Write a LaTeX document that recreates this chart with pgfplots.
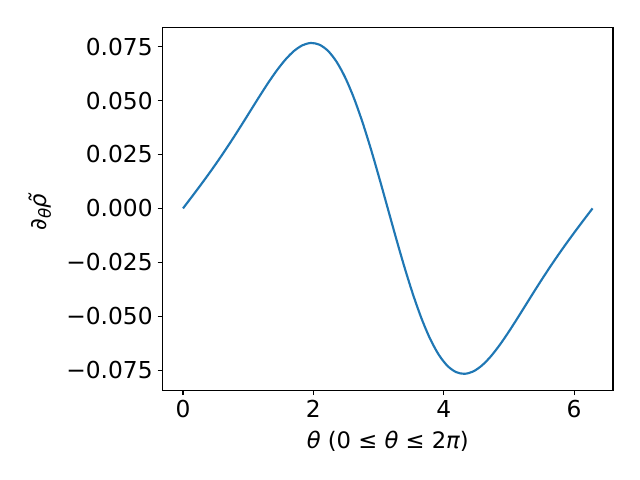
\documentclass[border=0pt]{standalone}
\usepackage{fontspec}
\setmainfont{DejaVu Sans}
\usepackage{pgfplots}
\pgfplotsset{compat=1.18}
\definecolor{mplblue}{RGB}{31,119,180}
\begin{document}
\begin{tikzpicture}
\begin{axis}[
  scale only axis, width=337.9pt, height=272.25pt,
  xmin=-0.31416, xmax=6.59734, ymin=-0.0844, ymax=0.0839,
  scaled y ticks=false, scaled x ticks=false,
  axis line style={line width=0.83pt},
  tick style={line width=0.83pt, black},
  major tick length=3.6pt, tick align=outside, tick pos=left,
  xtick={0,2,4,6}, xticklabels={0,2,4,6},
  ytick={-0.075,-0.05,-0.025,0,0.025,0.05,0.075},
  yticklabels={−0.075,−0.050,−0.025,0.000,0.025,0.050,0.075},
  ticklabel style={font=\fontsize{17.5}{21}\selectfont, inner sep=0pt},
  xticklabel style={yshift=-3.6pt},
  yticklabel style={xshift=-3.6pt},
  xlabel={{\itshape θ} (0 ≤ {\itshape θ} ≤ 2{\itshape π})},
  ylabel={∂\raisebox{-0.35ex}{\fontsize{12.5}{14}\selectfont\itshape θ}{\itshape ρ̃}},
  xlabel style={font=\fontsize{17}{20}\selectfont, at={(axis description cs:0.5,-0.1405)}, anchor=center},
  ylabel style={font=\fontsize{17}{20}\selectfont, at={(axis description cs:-0.272,0.49)}, anchor=center, rotate=0},
  clip=false,
]
\coordinate (bl) at (rel axis cs:0,0);
\coordinate (tr) at (rel axis cs:1,1);
\addplot[mplblue, line width=1.6pt, smooth] coordinates {
(0.0000,0.000000) (0.1309,0.005197) (0.2618,0.010465) (0.3927,0.015870)
(0.5236,0.021463) (0.6545,0.027276) (0.7854,0.033310) (0.9163,0.039533)
(1.0472,0.045865) (1.1781,0.052179) (1.3090,0.058295) (1.4399,0.063981)
(1.5708,0.068970) (1.7017,0.072957) (1.8326,0.075635) (1.9635,0.076701)
(2.0944,0.075899) (2.2253,0.073031) (2.3562,0.067990) (2.4871,0.060774)
(2.6180,0.051497) (2.7489,0.040392) (2.8798,0.027805) (3.0107,0.014173)
(3.1416,0.000000) (3.2725,-0.014173) (3.4034,-0.027805) (3.5343,-0.040392)
(3.6652,-0.051497) (3.7961,-0.060774) (3.9270,-0.067990) (4.0579,-0.073031)
(4.1888,-0.075899) (4.3197,-0.076701) (4.4506,-0.075635) (4.5815,-0.072957)
(4.7124,-0.068970) (4.8433,-0.063981) (4.9742,-0.058295) (5.1051,-0.052179)
(5.2360,-0.045865) (5.3669,-0.039533) (5.4978,-0.033310) (5.6287,-0.027276)
(5.7596,-0.021463) (5.8905,-0.015870) (6.0214,-0.010465) (6.1523,-0.005197)
(6.2832,0.000000)
};
\end{axis}
\pgfresetboundingbox
\path[use as bounding box] ([shift={(-121.9pt,-67.1pt)}]bl) rectangle ([shift={(20.25pt,20.6pt)}]tr);
\end{tikzpicture}
\end{document}
